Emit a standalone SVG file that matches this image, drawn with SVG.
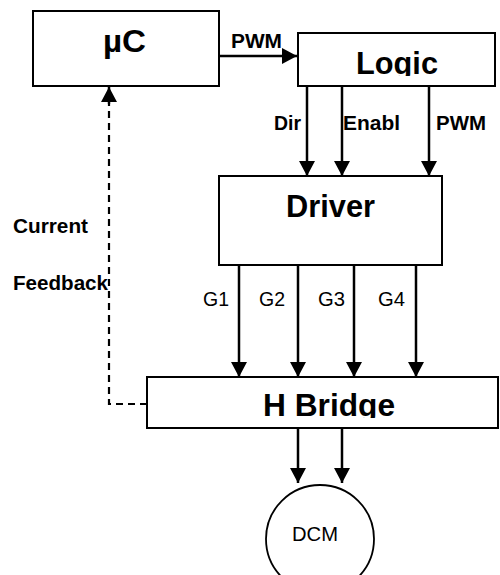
<svg xmlns="http://www.w3.org/2000/svg" width="500" height="575" viewBox="0 0 500 575">
<style>
.box{fill:#fff;stroke:#000;stroke-width:2}
.big{font-family:"Liberation Sans",Arial,sans-serif;font-weight:bold;font-size:32px;fill:#000}
.lbl{font-family:"Liberation Sans",Arial,sans-serif;font-weight:bold;font-size:20px;fill:#000}
.reg{font-family:"Liberation Sans",Arial,sans-serif;font-size:20px;fill:#000}
.ln{stroke:#000;stroke-width:2.5;fill:none}
.dash{stroke:#000;stroke-width:2.2;fill:none;stroke-dasharray:7,5}
</style>
<defs>
<marker id="ah" markerUnits="userSpaceOnUse" markerWidth="16" markerHeight="16" viewBox="0 0 16 16" refX="15" refY="8" orient="auto">
<path d="M0,0 L15,8 L0,16 Z" fill="#000"/>
</marker>
<clipPath id="clipLogic"><rect x="298" y="33" width="197" height="43"/></clipPath>
<clipPath id="clipHB"><rect x="147" y="377" width="353" height="41"/></clipPath>
</defs>
<g id="connectors">
<line class="ln" x1="219" y1="56" x2="297" y2="56" marker-end="url(#ah)"/>
<line class="ln" x1="307" y1="86" x2="307" y2="176" marker-end="url(#ah)"/>
<line class="ln" x1="342" y1="86" x2="342" y2="176" marker-end="url(#ah)"/>
<line class="ln" x1="429" y1="86" x2="429" y2="176" marker-end="url(#ah)"/>
<line class="ln" x1="239" y1="265" x2="239" y2="377" marker-end="url(#ah)"/>
<line class="ln" x1="298" y1="265" x2="298" y2="377" marker-end="url(#ah)"/>
<line class="ln" x1="354" y1="265" x2="354" y2="377" marker-end="url(#ah)"/>
<line class="ln" x1="416" y1="265" x2="416" y2="377" marker-end="url(#ah)"/>
<line class="ln" x1="298" y1="428" x2="298" y2="483" marker-end="url(#ah)"/>
<line class="ln" x1="342" y1="428" x2="342" y2="483" marker-end="url(#ah)"/>
<polyline class="dash" points="147,404 109,404 109,104"/>
<line class="ln" x1="109" y1="104" x2="109" y2="87" stroke-width="0" marker-end="url(#ah)"/>
<text class="lbl" x="231" y="48" textLength="51" lengthAdjust="spacingAndGlyphs">PWM</text>
<text class="lbl" x="274" y="130" textLength="27" lengthAdjust="spacingAndGlyphs">Dir</text>
<text class="lbl" x="343" y="130" textLength="57" lengthAdjust="spacingAndGlyphs">Enabl</text>
<text class="lbl" x="436" y="130" textLength="50" lengthAdjust="spacingAndGlyphs">PWM</text>
<text class="lbl" x="13" y="233" textLength="75" lengthAdjust="spacingAndGlyphs">Current</text>
<text class="lbl" x="13" y="290" textLength="95" lengthAdjust="spacingAndGlyphs">Feedback</text>
<text class="reg" x="203" y="306" textLength="26" lengthAdjust="spacingAndGlyphs">G1</text>
<text class="reg" x="259" y="306" textLength="26" lengthAdjust="spacingAndGlyphs">G2</text>
<text class="reg" x="318" y="306" textLength="27" lengthAdjust="spacingAndGlyphs">G3</text>
<text class="reg" x="378" y="306" textLength="27" lengthAdjust="spacingAndGlyphs">G4</text>
</g>
<g id="uC">
<rect class="box" x="33" y="11" width="186" height="75"/>
<text class="big" x="103" y="52" font-size="26" textLength="43" lengthAdjust="spacingAndGlyphs">µC</text>
</g>
<g id="logic">
<rect class="box" x="298" y="33" width="197" height="53"/>
<text class="big" x="356" y="74" textLength="82" lengthAdjust="spacingAndGlyphs" clip-path="url(#clipLogic)">Logic</text>
</g>
<g id="driver">
<rect class="box" x="219" y="176" width="223" height="89"/>
<text class="big" x="286" y="217" textLength="89" lengthAdjust="spacingAndGlyphs">Driver</text>
</g>
<g id="hbridge">
<rect class="box" x="147" y="377" width="351" height="51"/>
<text class="big" x="263" y="416" textLength="132" lengthAdjust="spacingAndGlyphs" clip-path="url(#clipHB)">H Bridge</text>
</g>
<g id="dcm">
<circle cx="320" cy="539" r="54" fill="#fff" stroke="#000" stroke-width="1.8"/>
<text class="reg" x="292" y="541" font-size="21" textLength="46" lengthAdjust="spacingAndGlyphs">DCM</text>
</g>
</svg>
